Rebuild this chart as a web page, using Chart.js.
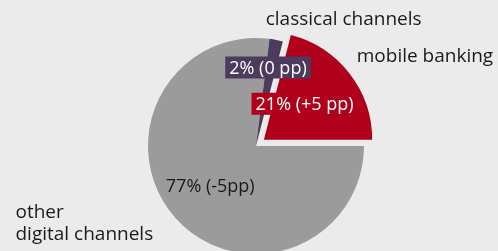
<!DOCTYPE html>
<html>
<head>
<meta charset="utf-8">
<script src="https://cdn.jsdelivr.net/npm/chart.js@4.4.1/dist/chart.umd.min.js"></script>
<style>
  html, body { margin: 0; padding: 0; background: #ebebeb; overflow: hidden; }
  canvas { display: block; }
</style>
</head>
<body>
<canvas id="pie" width="498" height="276"></canvas>
<script>
// shares of transactions by channel (order = drawing order, clockwise)
const channels = [['mobile banking'], ['other', 'digital channels'], ['classical channels']];
const shares   = [21, 77, 2];
const changes  = ['+5 pp', '-5pp', '0 pp'];
const colours  = ['#b0001b', '#9b9b9b', '#4d3a5f'];

const FONT = '"Open Sans", "Noto Sans", sans-serif';

// label placement relative to each slice (r = fraction of radius along mid angle)
const inner = [
  { r: 0.50, dx: -2, dy: -3, box: true,  color: '#fff' },
  { r: 0.565, dx: 0, dy: 0,  box: false, color: '#1a1a1a' },
  { r: 0.74, dx: -3, dy: 0,  box: true,  color: '#fff' }
];
const outer = [
  { r: 1.17, dx: -7, dy: -6, align: 'left' },
  { r: 1.17, dx: -8, dy: -6, align: 'right' },
  { r: 1.17, dx: -14, dy: -2, align: 'left' }
];

const sliceLabels = {
  id: 'sliceLabels',
  afterDatasetsDraw(chart) {
    const ctx = chart.ctx;
    const arcs = chart.getDatasetMeta(0).data;
    ctx.save();
    ctx.textBaseline = 'middle';
    arcs.forEach((arc, i) => {
      const p = arc.getProps(['x', 'y', 'startAngle', 'endAngle', 'outerRadius'], true);
      const mid = (p.startAngle + p.endAngle) / 2;
      const off = (arc.options.offset || 0) / 4; // same shift as ArcElement.draw
      const cx = p.x + Math.cos(mid) * off;
      const cy = p.y + Math.sin(mid) * off;

      // value label inside the slice
      const il = inner[i];
      const txt = `${shares[i]}% (${changes[i]})`;
      ctx.font = `18px ${FONT}`;
      const ix = cx + Math.cos(mid) * p.outerRadius * il.r + il.dx;
      const iy = cy + Math.sin(mid) * p.outerRadius * il.r + il.dy;
      const w = ctx.measureText(txt).width;
      if (il.box) {
        ctx.fillStyle = colours[i];
        ctx.fillRect(ix - w / 2 - 4, iy - 11, w + 8, 22);
      }
      ctx.fillStyle = il.color;
      ctx.textAlign = 'center';
      ctx.fillText(txt, ix, iy + 1);

      // category name outside
      const ol = outer[i];
      const lines = channels[i];
      ctx.font = `19px ${FONT}`;
      const ox = cx + Math.cos(mid) * p.outerRadius * ol.r + ol.dx;
      const oy = cy + Math.sin(mid) * p.outerRadius * ol.r + ol.dy;
      const bw = Math.max(...lines.map(l => ctx.measureText(l).width));
      const left = ol.align === 'right' ? ox - bw : ox;
      const lh = 22;
      ctx.fillStyle = '#1a1a1a';
      ctx.textAlign = 'left';
      lines.forEach((l, k) => {
        ctx.fillText(l, left, oy + (k - (lines.length - 1) / 2) * lh);
      });
    });
    ctx.restore();
  }
};

new Chart(document.getElementById('pie'), {
  type: 'pie',
  data: {
    labels: channels.map(c => c.join(' ')),
    datasets: [{
      data: shares,
      backgroundColor: colours,
      borderWidth: 0,
      offset: [40, 0, 0]
    }]
  },
  options: {
    responsive: false,
    animation: false,
    rotation: 14.4,
    layout: { padding: { top: 18, bottom: 2, left: 14, right: 0 } },
    plugins: { legend: { display: false }, tooltip: { enabled: false } }
  },
  plugins: [sliceLabels]
});
</script>
</body>
</html>
